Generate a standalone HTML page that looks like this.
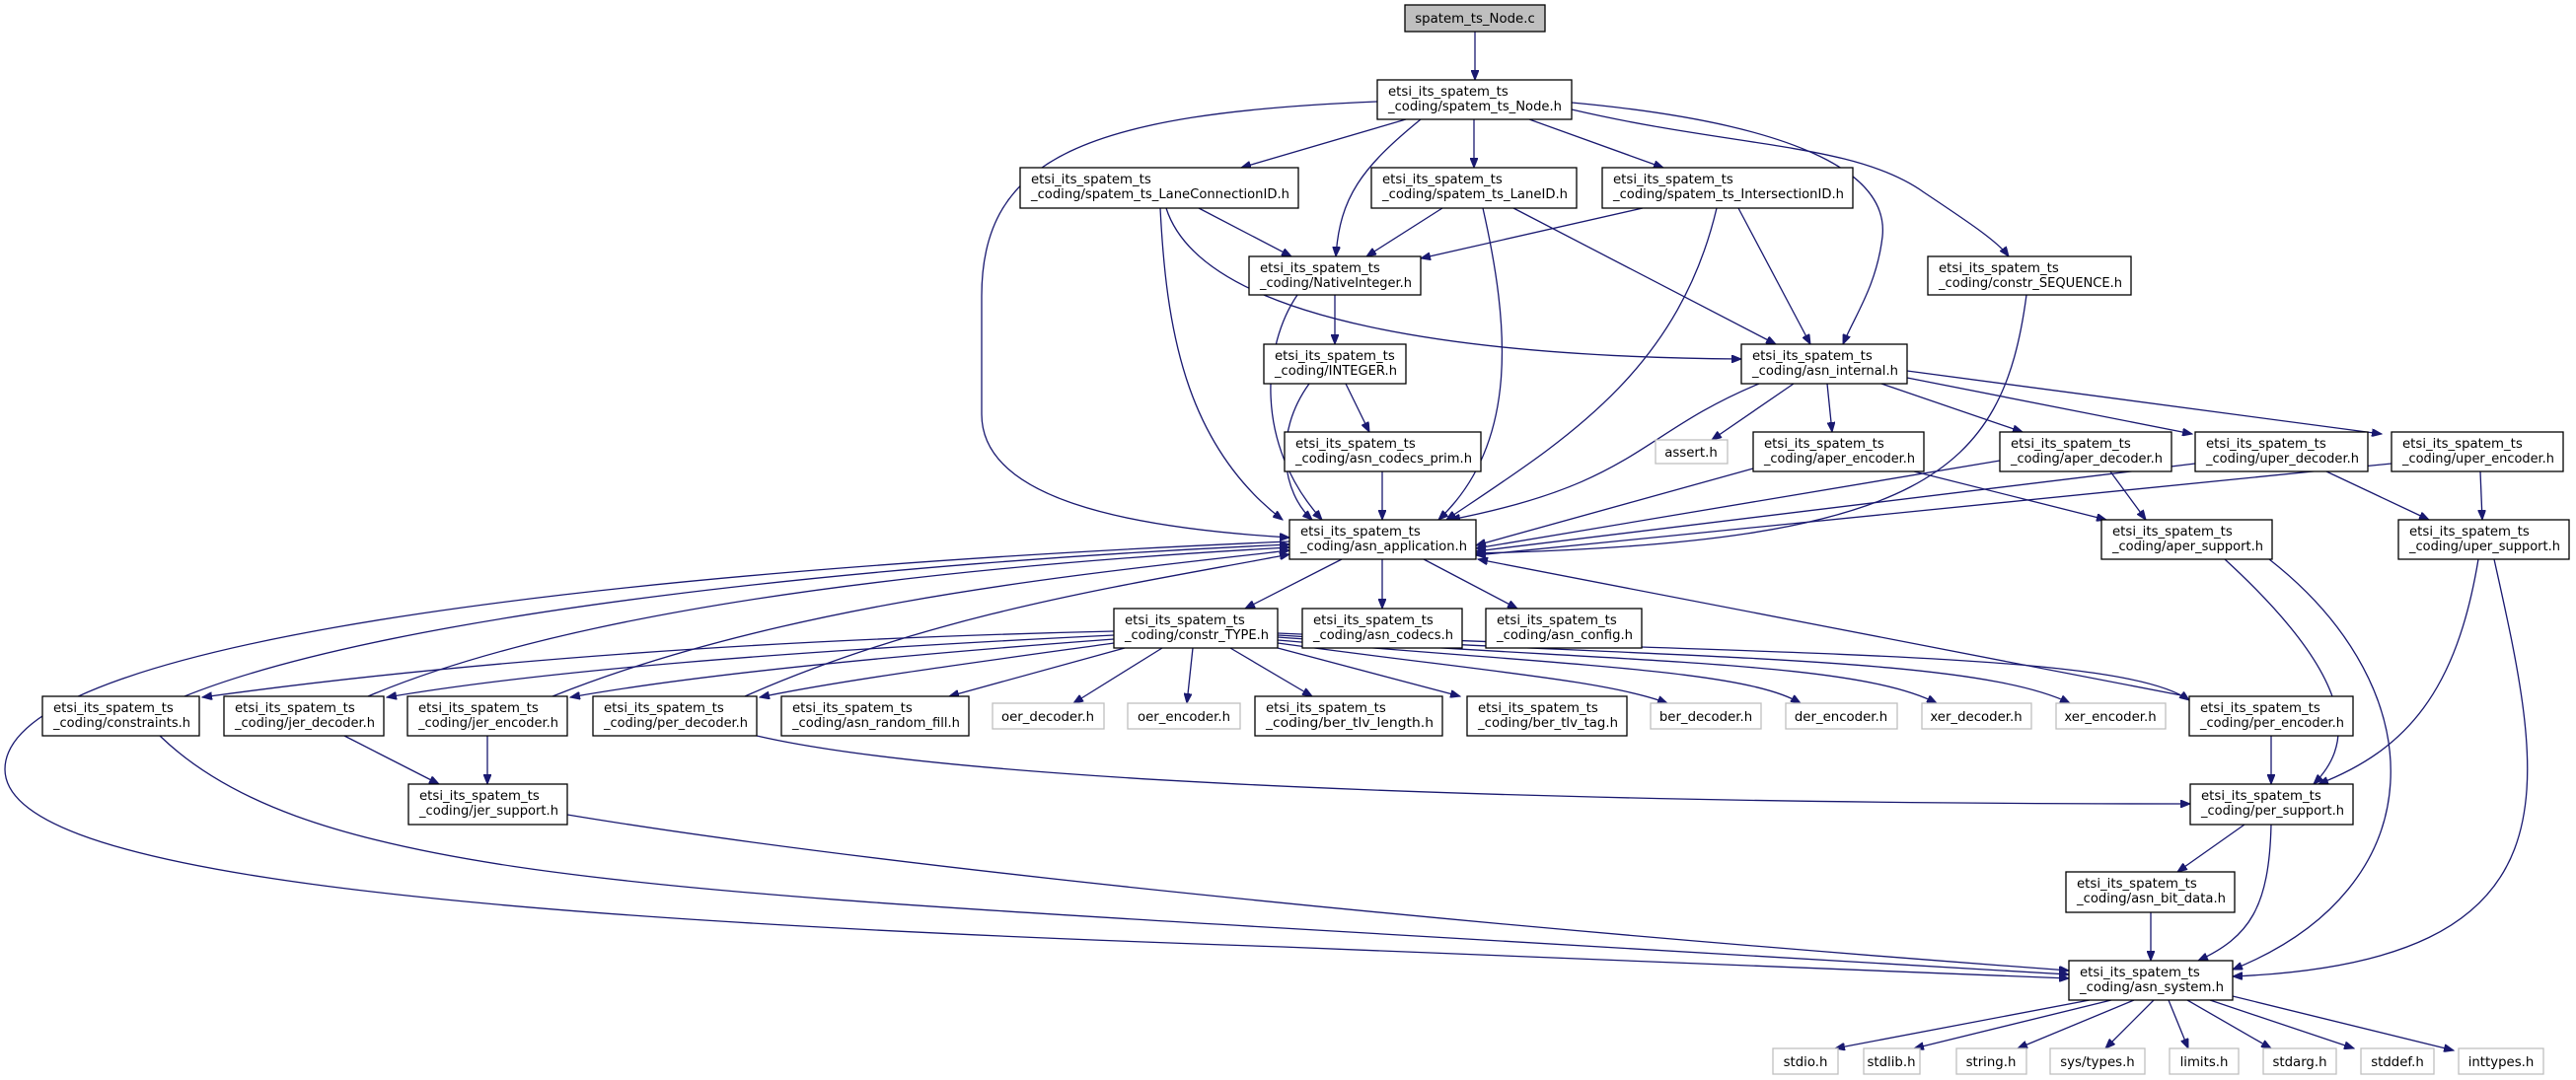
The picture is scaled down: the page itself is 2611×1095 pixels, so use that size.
<!DOCTYPE html>
<html><head><meta charset="utf-8"><style>
html,body{margin:0;padding:0;background:#fff;}
svg{display:block;}
text{font-family:"DejaVu Sans","Liberation Sans",sans-serif;font-size:13.3px;fill:#000;}
.n{fill:#fff;stroke:#000;stroke-width:1.3;}
.g{fill:#fff;stroke:#bfbfbf;stroke-width:1.3;}
.c{fill:#bfbfbf;stroke:#000;stroke-width:1.3;}
.e{fill:none;stroke:#191970;stroke-width:1.3;marker-end:url(#a);}
</style></head><body>
<svg width="2611" height="1095" viewBox="0 0 2611 1095" xmlns="http://www.w3.org/2000/svg">
<defs><marker id="a" markerUnits="userSpaceOnUse" markerWidth="11" markerHeight="8" refX="10" refY="4" orient="auto"><path d="M0,0 L10,4 L0,8 z" fill="#191970" stroke="#191970"/></marker></defs>
<g>
<path class="e" d="M1495,32 L1495,81"/>
<path class="e" d="M1425,121 L1258,170"/>
<path class="e" d="M1494,121 L1494,170"/>
<path class="e" d="M1550,121 L1686,170"/>
<path class="e" d="M1440,121 C1380,170 1358,200 1354,260"/>
<path class="e" d="M1396,103 C1100,115 995,160 995,300 L995,420 C995,505 1140,535 1307,545"/>
<path class="e" d="M1593,104 C1820,125 1915,175 1908,240 C1902,290 1880,320 1868,349"/>
<path class="e" d="M1593,111 C1760,150 1880,145 1950,195 C1995,225 2025,245 2036,260"/>
<path class="e" d="M1215,211 L1309,260"/>
<path class="e" d="M1176,211 C1182,330 1200,450 1300,527"/>
<path class="e" d="M1182,211 C1220,330 1500,362 1765,364"/>
<path class="e" d="M1462,211 L1385,260"/>
<path class="e" d="M1503,211 C1530,330 1540,450 1458,527"/>
<path class="e" d="M1534,211 L1800,349"/>
<path class="e" d="M1665,211 L1440,262"/>
<path class="e" d="M1740,211 C1700,380 1580,450 1466,527"/>
<path class="e" d="M1762,211 L1835,349"/>
<path class="e" d="M1353,299 L1353,349"/>
<path class="e" d="M1315,299 C1280,350 1270,450 1340,527"/>
<path class="e" d="M1327,389 C1290,440 1300,500 1330,527"/>
<path class="e" d="M1364,389 L1388,438"/>
<path class="e" d="M1401,478 L1401,527"/>
<path class="e" d="M2054,299 C2030,480 1950,550 1496,561"/>
<path class="e" d="M1783,389 C1660,440 1660,490 1470,527"/>
<path class="e" d="M1818,389 L1735,446"/>
<path class="e" d="M1852,389 L1857,438"/>
<path class="e" d="M1907,389 L2050,438"/>
<path class="e" d="M1933,383 L2222,440"/>
<path class="e" d="M1933,376 L2414,440"/>
<path class="e" d="M1777,475 L1496,553"/>
<path class="e" d="M1940,478 L2135,527"/>
<path class="e" d="M2027,467 L1496,556"/>
<path class="e" d="M2139,478 L2175,527"/>
<path class="e" d="M2225,470 L1496,559"/>
<path class="e" d="M2358,478 L2462,527"/>
<path class="e" d="M2424,470 L1496,563"/>
<path class="e" d="M2514,478 L2516,527"/>
<path class="e" d="M1360,567 L1262,617"/>
<path class="e" d="M1401,567 L1401,617"/>
<path class="e" d="M1443,567 L1538,617"/>
<path class="e" d="M2211,705 L1498,567"/>
<path class="e" d="M1307,549 C700,575 5,640 5,780 C5,880 400,930 1300,960 C1700,975 1950,985 2097,992"/>
<path class="e" d="M1129,640 C700,650 400,680 205,707"/>
<path class="e" d="M1129,644 C800,660 550,680 392,707"/>
<path class="e" d="M1129,648 C900,665 700,685 578,707"/>
<path class="e" d="M1129,652 C1000,670 850,690 770,707"/>
<path class="e" d="M1140,657 L962,706"/>
<path class="e" d="M1178,657 L1088,713"/>
<path class="e" d="M1209,657 L1203,713"/>
<path class="e" d="M1247,657 L1330,706"/>
<path class="e" d="M1295,657 L1480,706"/>
<path class="e" d="M1295,652 C1500,680 1630,690 1690,713"/>
<path class="e" d="M1295,649 C1600,675 1770,680 1825,713"/>
<path class="e" d="M1295,646 C1650,672 1880,670 1963,713"/>
<path class="e" d="M1295,644 C1700,668 2000,665 2098,713"/>
<path class="e" d="M1295,642 C1800,665 2150,660 2219,710"/>
<path class="e" d="M187,706 C400,620 900,570 1307,552"/>
<path class="e" d="M373,706 C600,610 1000,572 1307,555"/>
<path class="e" d="M560,706 C800,610 1100,582 1307,558"/>
<path class="e" d="M755,706 C950,620 1150,592 1307,562"/>
<path class="e" d="M162,746 C300,880 600,900 1300,941 C1700,965 1950,978 2097,988"/>
<path class="e" d="M349,746 L445,795"/>
<path class="e" d="M494,746 L494,795"/>
<path class="e" d="M575,826 C900,880 1500,940 2097,984"/>
<path class="e" d="M767,746 C1000,800 1700,815 2220,815"/>
<path class="e" d="M2302,746 L2302,795"/>
<path class="e" d="M2255,567 C2400,700 2380,760 2345,795"/>
<path class="e" d="M2300,567 C2470,700 2470,900 2263,983"/>
<path class="e" d="M2512,567 C2490,700 2440,760 2350,795"/>
<path class="e" d="M2528,567 C2580,800 2620,975 2263,990"/>
<path class="e" d="M2275,836 L2207,884"/>
<path class="e" d="M2302,836 C2300,920 2280,950 2228,974"/>
<path class="e" d="M2180,925 L2180,974"/>
<path class="e" d="M2118,1014 L1860,1063"/>
<path class="e" d="M2140,1014 L1940,1063"/>
<path class="e" d="M2163,1014 L2045,1063"/>
<path class="e" d="M2183,1014 L2134,1063"/>
<path class="e" d="M2198,1014 L2218,1063"/>
<path class="e" d="M2217,1014 L2302,1063"/>
<path class="e" d="M2240,1014 L2386,1063"/>
<path class="e" d="M2263,1010 L2487,1065"/>
</g>
<g>
<rect class="c" x="1424" y="5" width="142" height="27"/><text x="1495" y="23" text-anchor="middle">spatem_ts_Node.c</text>

<rect class="n" x="1396" y="81" width="197" height="40"/><text x="1407" y="97">etsi_its_spatem_ts</text><text x="1407" y="112" textLength="176" lengthAdjust="spacingAndGlyphs">_coding/spatem_ts_Node.h</text>
<rect class="n" x="1034" y="170" width="282" height="41"/><text x="1045" y="186">etsi_its_spatem_ts</text><text x="1045" y="201" textLength="262" lengthAdjust="spacingAndGlyphs">_coding/spatem_ts_LaneConnectionID.h</text>
<rect class="n" x="1390" y="170" width="208" height="41"/><text x="1401" y="186">etsi_its_spatem_ts</text><text x="1401" y="201" textLength="188" lengthAdjust="spacingAndGlyphs">_coding/spatem_ts_LaneID.h</text>
<rect class="n" x="1624" y="170" width="254" height="41"/><text x="1635" y="186">etsi_its_spatem_ts</text><text x="1635" y="201" textLength="234" lengthAdjust="spacingAndGlyphs">_coding/spatem_ts_IntersectionID.h</text>
<rect class="n" x="1266" y="260" width="174" height="39"/><text x="1277" y="276">etsi_its_spatem_ts</text><text x="1277" y="291" textLength="154" lengthAdjust="spacingAndGlyphs">_coding/NativeInteger.h</text>
<rect class="n" x="1954" y="260" width="206" height="39"/><text x="1965" y="276">etsi_its_spatem_ts</text><text x="1965" y="291" textLength="186" lengthAdjust="spacingAndGlyphs">_coding/constr_SEQUENCE.h</text>
<rect class="n" x="1281" y="349" width="144" height="40"/><text x="1292" y="365">etsi_its_spatem_ts</text><text x="1292" y="380" textLength="124" lengthAdjust="spacingAndGlyphs">_coding/INTEGER.h</text>
<rect class="n" x="1765" y="349" width="168" height="40"/><text x="1776" y="365">etsi_its_spatem_ts</text><text x="1776" y="380" textLength="148" lengthAdjust="spacingAndGlyphs">_coding/asn_internal.h</text>
<rect class="n" x="1302" y="438" width="199" height="40"/><text x="1313" y="454">etsi_its_spatem_ts</text><text x="1313" y="469" textLength="179" lengthAdjust="spacingAndGlyphs">_coding/asn_codecs_prim.h</text>
<rect class="g" x="1678" y="446" width="73" height="24"/><text x="1714" y="463" text-anchor="middle">assert.h</text>
<rect class="n" x="1777" y="438" width="173" height="40"/><text x="1788" y="454">etsi_its_spatem_ts</text><text x="1788" y="469" textLength="153" lengthAdjust="spacingAndGlyphs">_coding/aper_encoder.h</text>
<rect class="n" x="2027" y="438" width="174" height="40"/><text x="2038" y="454">etsi_its_spatem_ts</text><text x="2038" y="469" textLength="154" lengthAdjust="spacingAndGlyphs">_coding/aper_decoder.h</text>
<rect class="n" x="2225" y="438" width="175" height="40"/><text x="2236" y="454">etsi_its_spatem_ts</text><text x="2236" y="469" textLength="155" lengthAdjust="spacingAndGlyphs">_coding/uper_decoder.h</text>
<rect class="n" x="2424" y="438" width="174" height="40"/><text x="2435" y="454">etsi_its_spatem_ts</text><text x="2435" y="469" textLength="154" lengthAdjust="spacingAndGlyphs">_coding/uper_encoder.h</text>
<rect class="n" x="1307" y="527" width="189" height="40"/><text x="1318" y="543">etsi_its_spatem_ts</text><text x="1318" y="558" textLength="169" lengthAdjust="spacingAndGlyphs">_coding/asn_application.h</text>
<rect class="n" x="2130" y="527" width="173" height="40"/><text x="2141" y="543">etsi_its_spatem_ts</text><text x="2141" y="558" textLength="153" lengthAdjust="spacingAndGlyphs">_coding/aper_support.h</text>
<rect class="n" x="2431" y="527" width="173" height="40"/><text x="2442" y="543">etsi_its_spatem_ts</text><text x="2442" y="558" textLength="153" lengthAdjust="spacingAndGlyphs">_coding/uper_support.h</text>
<rect class="n" x="1129" y="617" width="166" height="40"/><text x="1140" y="633">etsi_its_spatem_ts</text><text x="1140" y="648" textLength="146" lengthAdjust="spacingAndGlyphs">_coding/constr_TYPE.h</text>
<rect class="n" x="1320" y="617" width="162" height="40"/><text x="1331" y="633">etsi_its_spatem_ts</text><text x="1331" y="648" textLength="142" lengthAdjust="spacingAndGlyphs">_coding/asn_codecs.h</text>
<rect class="n" x="1506" y="617" width="158" height="40"/><text x="1517" y="633">etsi_its_spatem_ts</text><text x="1517" y="648" textLength="138" lengthAdjust="spacingAndGlyphs">_coding/asn_config.h</text>
<rect class="n" x="43" y="706" width="159" height="40"/><text x="54" y="722">etsi_its_spatem_ts</text><text x="54" y="737" textLength="139" lengthAdjust="spacingAndGlyphs">_coding/constraints.h</text>
<rect class="n" x="227" y="706" width="162" height="40"/><text x="238" y="722">etsi_its_spatem_ts</text><text x="238" y="737" textLength="142" lengthAdjust="spacingAndGlyphs">_coding/jer_decoder.h</text>
<rect class="n" x="413" y="706" width="162" height="40"/><text x="424" y="722">etsi_its_spatem_ts</text><text x="424" y="737" textLength="142" lengthAdjust="spacingAndGlyphs">_coding/jer_encoder.h</text>
<rect class="n" x="601" y="706" width="166" height="40"/><text x="612" y="722">etsi_its_spatem_ts</text><text x="612" y="737" textLength="146" lengthAdjust="spacingAndGlyphs">_coding/per_decoder.h</text>
<rect class="n" x="792" y="706" width="190" height="40"/><text x="803" y="722">etsi_its_spatem_ts</text><text x="803" y="737" textLength="170" lengthAdjust="spacingAndGlyphs">_coding/asn_random_fill.h</text>
<rect class="g" x="1006" y="713" width="113" height="26"/><text x="1062" y="731" text-anchor="middle">oer_decoder.h</text>
<rect class="g" x="1143" y="713" width="114" height="26"/><text x="1200" y="731" text-anchor="middle">oer_encoder.h</text>
<rect class="n" x="1272" y="706" width="190" height="40"/><text x="1283" y="722">etsi_its_spatem_ts</text><text x="1283" y="737" textLength="170" lengthAdjust="spacingAndGlyphs">_coding/ber_tlv_length.h</text>
<rect class="n" x="1487" y="706" width="162" height="40"/><text x="1498" y="722">etsi_its_spatem_ts</text><text x="1498" y="737" textLength="142" lengthAdjust="spacingAndGlyphs">_coding/ber_tlv_tag.h</text>
<rect class="g" x="1673" y="713" width="112" height="26"/><text x="1729" y="731" text-anchor="middle">ber_decoder.h</text>
<rect class="g" x="1810" y="713" width="113" height="26"/><text x="1866" y="731" text-anchor="middle">der_encoder.h</text>
<rect class="g" x="1948" y="713" width="111" height="26"/><text x="2003" y="731" text-anchor="middle">xer_decoder.h</text>
<rect class="g" x="2084" y="713" width="111" height="26"/><text x="2139" y="731" text-anchor="middle">xer_encoder.h</text>
<rect class="n" x="2219" y="706" width="166" height="40"/><text x="2230" y="722">etsi_its_spatem_ts</text><text x="2230" y="737" textLength="146" lengthAdjust="spacingAndGlyphs">_coding/per_encoder.h</text>
<rect class="n" x="414" y="795" width="161" height="41"/><text x="425" y="811">etsi_its_spatem_ts</text><text x="425" y="826" textLength="141" lengthAdjust="spacingAndGlyphs">_coding/jer_support.h</text>
<rect class="n" x="2220" y="795" width="165" height="41"/><text x="2231" y="811">etsi_its_spatem_ts</text><text x="2231" y="826" textLength="145" lengthAdjust="spacingAndGlyphs">_coding/per_support.h</text>
<rect class="n" x="2094" y="884" width="171" height="41"/><text x="2105" y="900">etsi_its_spatem_ts</text><text x="2105" y="915" textLength="151" lengthAdjust="spacingAndGlyphs">_coding/asn_bit_data.h</text>
<rect class="n" x="2097" y="974" width="166" height="40"/><text x="2108" y="990">etsi_its_spatem_ts</text><text x="2108" y="1005" textLength="146" lengthAdjust="spacingAndGlyphs">_coding/asn_system.h</text>
<rect class="g" x="1797" y="1063" width="66" height="26"/><text x="1830" y="1081" text-anchor="middle">stdio.h</text>
<rect class="g" x="1889" y="1063" width="57" height="26"/><text x="1917" y="1081" text-anchor="middle">stdlib.h</text>
<rect class="g" x="1983" y="1063" width="71" height="26"/><text x="2018" y="1081" text-anchor="middle">string.h</text>
<rect class="g" x="2078" y="1063" width="96" height="26"/><text x="2126" y="1081" text-anchor="middle">sys/types.h</text>
<rect class="g" x="2199" y="1063" width="70" height="26"/><text x="2234" y="1081" text-anchor="middle">limits.h</text>
<rect class="g" x="2294" y="1063" width="74" height="26"/><text x="2331" y="1081" text-anchor="middle">stdarg.h</text>
<rect class="g" x="2393" y="1063" width="74" height="26"/><text x="2430" y="1081" text-anchor="middle">stddef.h</text>
<rect class="g" x="2492" y="1063" width="86" height="26"/><text x="2535" y="1081" text-anchor="middle">inttypes.h</text>
</g>
</svg>
</body></html>
